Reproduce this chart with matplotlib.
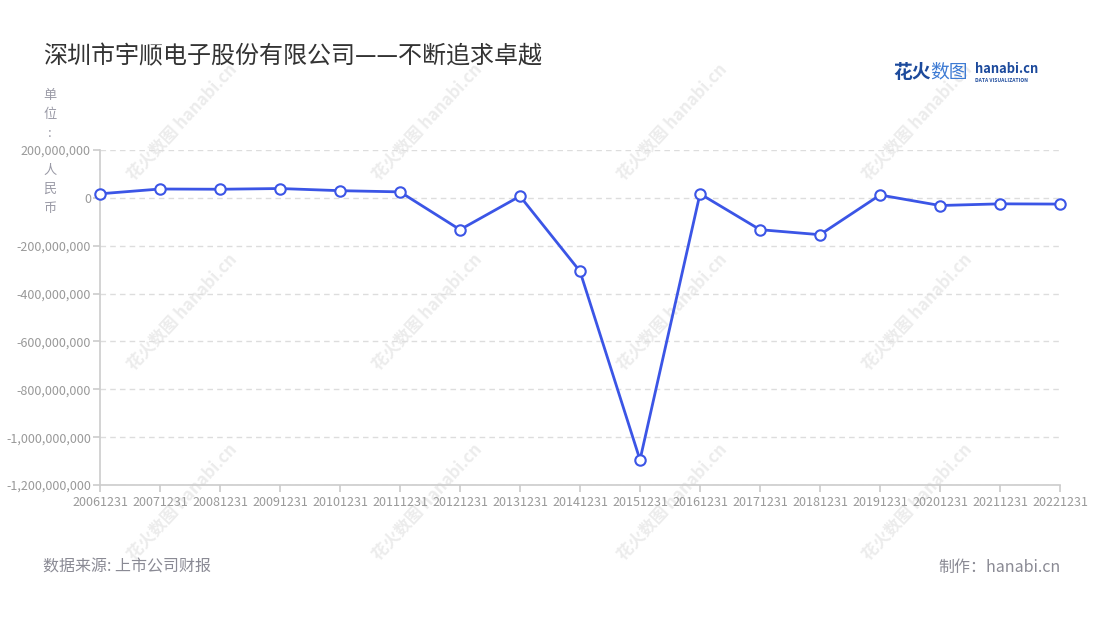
import matplotlib
matplotlib.use("Agg")
import matplotlib.pyplot as plt
from matplotlib.ticker import FuncFormatter

plt.rcParams["font.family"] = ["Noto Sans CJK SC", "DejaVu Sans"]

# data (in yuan)
periods = [
    "20061231", "20071231", "20081231", "20091231", "20101231", "20111231",
    "20121231", "20131231", "20141231", "20151231", "20161231", "20171231",
    "20181231", "20191231", "20201231", "20211231", "20221231",
]
values = [
    17e6, 37e6, 36e6, 39e6, 30e6, 25e6,
    -133e6, 7e6, -307e6, -1095e6, 17e6, -133e6,
    -154e6, 12e6, -32e6, -25e6, -26e6,
]
y_ticks = [200e6, 0, -200e6, -400e6, -600e6, -800e6, -1000e6, -1200e6]

title = "深圳市宇顺电子股份有限公司——不断追求卓越"
unit_label = "单位:人民币"
source_note = "数据来源: 上市公司财报"
credit_note = "制作：hanabi.cn"

W, H = 1100, 620
fig = plt.figure(figsize=(W / 100, H / 100), dpi=100)
fig.patch.set_facecolor("white")


def fx(px):
    return px / W


def fy(py):
    return 1 - py / H


# faint tiled watermark
for cy in (122, 312, 502):
    for cx in (182, 427, 672, 917):
        fig.text(fx(cx), fy(cy), "花火数图 hanabi.cn", rotation=47, fontsize=12,
                 fontweight="bold", color="#ececec", ha="center", va="center",
                 rotation_mode="anchor", zorder=0)

ax = fig.add_axes([fx(100), fy(485), fx(1060) - fx(100), fy(150) - fy(485)])
ax.patch.set_alpha(0)
ax.set_zorder(2)

line_c = "#3b55e6"
ax.plot(range(len(periods)), values, color=line_c, linewidth=2.0, zorder=3,
        marker="o", markersize=7.5, markerfacecolor="white",
        markeredgecolor=line_c, markeredgewidth=1.5, clip_on=False)

ax.set_xlim(0, len(periods) - 1)
ax.set_ylim(y_ticks[-1], y_ticks[0])
ax.set_xticks(range(len(periods)))
ax.set_xticklabels(periods)
ax.set_yticks(y_ticks)
ax.yaxis.set_major_formatter(FuncFormatter(lambda v, _: f"{v:,.0f}"))

ax.grid(axis="y", color="#dddddd", linestyle=(0, (4, 3)), linewidth=1.0)
ax.set_axisbelow(True)
for name in ("top", "right"):
    ax.spines[name].set_visible(False)
for name in ("left", "bottom"):
    ax.spines[name].set_color("#cccccc")
    ax.spines[name].set_linewidth(1.2)
ax.tick_params(axis="both", colors="#cccccc", labelcolor="#999999",
               labelsize=9, length=5, width=1.2)
ax.tick_params(axis="x", pad=3)
ax.tick_params(axis="y", pad=1.5)

# vertical unit label, one char per slot with a gap for the top tick label
slots = list(unit_label[:3]) + [""] + list(unit_label[3:])
for i, ch in enumerate(slots):
    if ch:
        fig.text(fx(50), fy(96 + i * 18.7), ch, fontsize=9.5, color="#9a9aa6",
                 ha="center", va="center")

fig.text(fx(43), fy(56), title, fontsize=17.3, color="#333333",
         ha="left", va="center")

# logo
fig.text(fx(893), fy(72), "花火", fontsize=13.5, fontweight="bold",
         color="#1c4a9c", ha="left", va="center")
fig.text(fx(930), fy(72), "数图", fontsize=13.5, color="#3d7bd4",
         ha="left", va="center")
fig.text(fx(975), fy(69), "hanabi.cn", fontsize=9.3, fontweight="bold",
         color="#1c4a9c", ha="left", va="center")
fig.text(fx(975), fy(80), "DATA VISUALIZATION", fontsize=3.6, fontweight="bold",
         color="#1c4a9c", ha="left", va="center")

fig.text(fx(43), fy(567), source_note, fontsize=11.5, color="#8a8a94",
         ha="left", va="center")
fig.text(fx(1061), fy(567), credit_note, fontsize=11.5, color="#8a8a94",
         ha="right", va="center")

fig.savefig("out.png", dpi=100, facecolor="white")
